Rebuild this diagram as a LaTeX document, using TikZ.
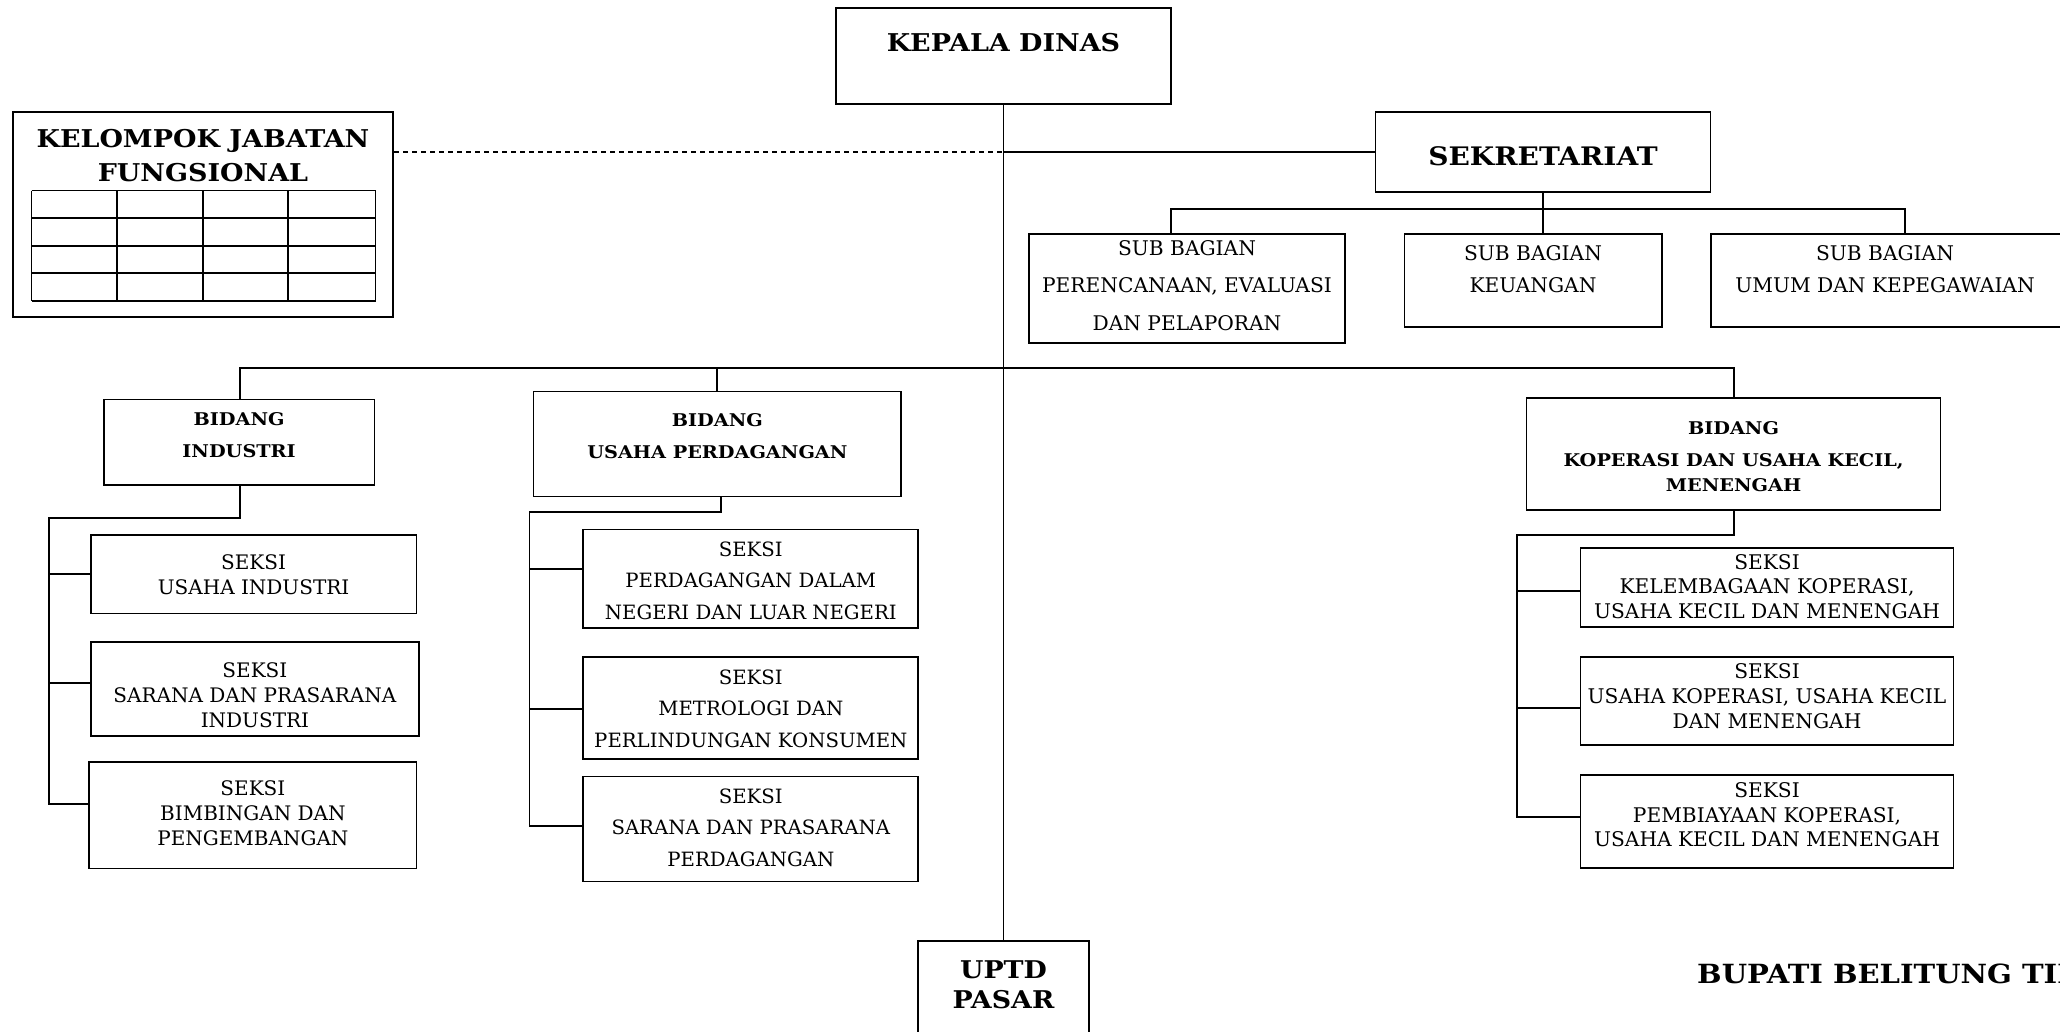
\documentclass[tikz,border=0pt]{standalone}
\usepackage{fontspec}
\setmainfont{DejaVu Serif}
\newfontfamily\wideserif[FakeStretch=1.1]{DejaVu Serif}
\begin{document}
\begin{tikzpicture}[x=1pt,y=-1pt,
  box/.style={draw,line width=1.8pt,rectangle,inner sep=0pt},
  conn/.style={line width=1.9pt},
  txt/.style={align=center,inner sep=0pt},
  bigb/.style={txt,font=\wideserif\bfseries\fontsize{24.5}{34}\selectfont},
  midb/.style={txt,font=\wideserif\bfseries\fontsize{17.5}{31.5}\selectfont},
  sks/.style={txt,font=\fontsize{20}{25}\selectfont},
  skw/.style={txt,font=\fontsize{19.7}{31.5}\selectfont},
  sbt/.style={txt,font=\fontsize{20.2}{37.5}\selectfont}]
\useasboundingbox (0,0) rectangle (2060,1031);
\fill[white] (0,0) rectangle (2060,1031);
% boxes
\node[box,minimum width=335pt,minimum height=96pt] (kd) at (1003.5,56) {};
\node[box,line width=2.4pt,minimum width=380pt,minimum height=205pt] (kjf) at (203,214.5) {};
\node[box,minimum width=335pt,minimum height=80pt] (sek) at (1543,151.8) {};
\node[box,minimum width=316.6pt,minimum height=109pt] (sb1) at (1187,288.4) {};
\node[box,minimum width=257.6pt,minimum height=93pt] (sb2) at (1533.2,280.5) {};
\node[box,minimum width=400pt,minimum height=93pt] (sb3) at (1910.6,280.5) {};
\node[box,minimum width=270.6pt,minimum height=85.4pt] (bi) at (239.1,442.1) {};
\node[box,minimum width=367.9pt,minimum height=105.1pt] (bup) at (717.4,444) {};
\node[box,minimum width=413.9pt,minimum height=111.7pt] (bk) at (1733.5,453.9) {};
\node[box,minimum width=325.8pt,minimum height=78.8pt] (sui) at (253.6,574.1) {};
\node[box,minimum width=328.3pt,minimum height=93.3pt] (sspi) at (254.9,689) {};
\node[box,minimum width=327.2pt,minimum height=106.4pt] (sbp) at (252.9,815.2) {};
\node[box,minimum width=335pt,minimum height=98.5pt] (spdln) at (750.8,578.8) {};
\node[box,minimum width=335pt,minimum height=102pt] (smpk) at (750.8,708) {};
\node[box,minimum width=335pt,minimum height=105.1pt] (sspp) at (750.8,829) {};
\node[box,minimum width=373.1pt,minimum height=78.7pt] (skk) at (1767,587.4) {};
\node[box,minimum width=373.1pt,minimum height=88pt] (sukm) at (1767,701) {};
\node[box,minimum width=373.1pt,minimum height=93pt] (spkm) at (1767,821.5) {};
\node[box,minimum width=170.7pt,minimum height=110pt] (uptd) at (1003.5,995.7) {};
% table in KJF
\foreach \yy in {190.5,218,246,273,301} \draw[line width=1.2pt] (31.5,\yy) -- (375.7,\yy);
\foreach \xx in {31.5,117,203,288,375.7} \draw[line width=1.2pt] (\xx,190.5) -- (\xx,301);
% texts
\node[bigb] (kd-t) at (1003.5,43) {KEPALA DINAS};
\node[bigb] (kjf-t) at (203,156) {KELOMPOK JABATAN\\FUNGSIONAL};
\node[bigb,font=\wideserif\bfseries\fontsize{25.5}{34}\selectfont] (sek-t) at (1543,156) {SEKRETARIAT};
\node[sbt] (sb1-t) at (1187,285.5) {SUB BAGIAN\\PERENCANAAN, EVALUASI\\DAN PELAPORAN};
\node[sbt,font=\fontsize{20.2}{32}\selectfont] (sb2-t) at (1533,269) {SUB BAGIAN\\KEUANGAN};
\node[sbt,font=\fontsize{20.2}{32}\selectfont] (sb3-t) at (1885,269) {SUB BAGIAN\\UMUM DAN KEPEGAWAIAN};
\node[midb] (bi-t) at (239.1,435) {BIDANG\\INDUSTRI};
\node[midb] (bup-t) at (717.4,436) {BIDANG\\USAHA PERDAGANGAN};
\node[midb,font=\wideserif\bfseries\fontsize{17.5}{25}\selectfont] (bk-t) at (1733.5,456.5) {BIDANG\\[7pt]KOPERASI DAN USAHA KECIL,\\MENENGAH};
\node[sks] (sui-t) at (253.6,574.5) {SEKSI\\USAHA INDUSTRI};
\node[sks] (sspi-t) at (254.9,695.5) {SEKSI\\SARANA DAN PRASARANA\\INDUSTRI};
\node[sks] (sbp-t) at (252.9,813.7) {SEKSI\\BIMBINGAN DAN\\PENGEMBANGAN};
\node[skw] (spdln-t) at (750.8,580.5) {SEKSI\\PERDAGANGAN DALAM\\NEGERI DAN LUAR NEGERI};
\node[skw] (smpk-t) at (750.8,708.5) {SEKSI\\METROLOGI DAN\\PERLINDUNGAN KONSUMEN};
\node[skw] (sspp-t) at (750.8,827.5) {SEKSI\\SARANA DAN PRASARANA\\PERDAGANGAN};
\node[sks,font=\fontsize{20.2}{24.5}\selectfont] (skk-t) at (1767,586.5) {SEKSI\\KELEMBAGAAN KOPERASI,\\USAHA KECIL DAN MENENGAH};
\node[sks,font=\fontsize{20.2}{25}\selectfont] (sukm-t) at (1767,696) {SEKSI\\USAHA KOPERASI, USAHA KECIL\\DAN MENENGAH};
\node[sks,font=\fontsize{20.2}{24.5}\selectfont] (spkm-t) at (1767,814.7) {SEKSI\\PEMBIAYAAN KOPERASI,\\USAHA KECIL DAN MENENGAH};
\node[bigb,font=\wideserif\bfseries\fontsize{24.4}{30.5}\selectfont] (uptd-t) at (1003.5,985) {UPTD\\PASAR};
\node[bigb,font=\wideserif\bfseries\fontsize{26.4}{30}\selectfont,anchor=west] (bup-sig) at (1697,973.5) {BUPATI BELITUNG TIMUR};
% connectors
\coordinate (dj) at (1003.5,152.4);
\draw[conn] (kd.south) -- (uptd.north);
\draw[conn,dash pattern=on 5pt off 4pt] (kjf.east |- dj) -- (dj);
\draw[conn] (dj) -- (sek.west |- dj);
\coordinate (sbL) at (1170.6,209);
\coordinate (sbR) at (1905,209);
\draw[conn] (sek.south) -- (sek.south |- sb2.north);
\draw[conn] (sbL |- sb1.north) -- (sbL) -- (sbR) -- (sbR |- sb3.north);
\coordinate (bL) at (240.4,368);
\coordinate (bR) at (1734,368);
\draw[conn] (bL |- bi.north) -- (bL) -- (bR) -- (bR |- bk.north);
\draw[conn] (bup.north) -- (bup.north |- bL);
% industri
\coordinate (biT) at (48.6,517.6);
\coordinate (biB) at (48.6,804);
\draw[conn] (bL |- bi.south) -- (bL |- biT) -- (biT) -- (biB) -- (biB -| sbp.west);
\draw[conn] (biT |- sui.west) -- (sui.west);
\draw[conn] (48.6,683) -- (sspi.west |- 0,683);
% perdagangan
\coordinate (buT) at (529.5,512);
\coordinate (buB) at (529.5,826);
\draw[conn] (721,496.6) -- (721,512) -- (buT) -- (buB) -- (buB -| sspp.west);
\draw[conn] (529.5,569) -- (spdln.west |- 0,569);
\draw[conn] (529.5,709) -- (smpk.west |- 0,709);
% koperasi
\coordinate (bkT) at (1517.4,535);
\coordinate (bkB) at (1517.4,817);
\draw[conn] (bR |- bk.south) -- (bR |- bkT) -- (bkT) -- (bkB) -- (bkB -| spkm.west);
\draw[conn] (1517.4,591) -- (skk.west |- 0,591);
\draw[conn] (1517.4,708) -- (sukm.west |- 0,708);
\end{tikzpicture}
\end{document}
